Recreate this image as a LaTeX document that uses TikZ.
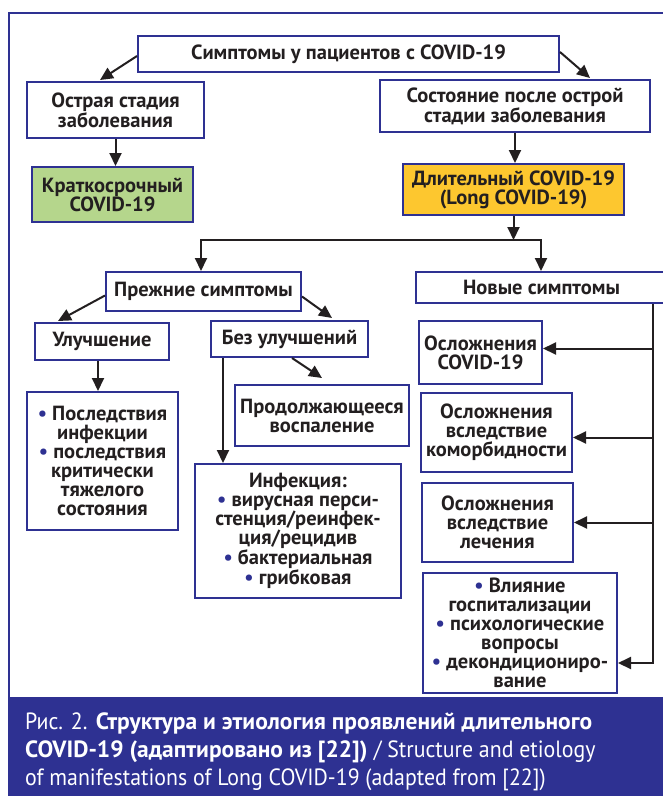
\documentclass[tikz,border=0pt]{standalone}
\usepackage{fontspec}
\setmainfont{PT Sans}
\newfontfamily\capreg{PT Sans}[FakeStretch=0.93]
\usetikzlibrary{arrows.meta}
\definecolor{fblue}{HTML}{2E3192}
\definecolor{ftext}{HTML}{231F20}
\definecolor{fgreen}{HTML}{B5D68C}
\definecolor{forange}{HTML}{FDC72F}
\newcommand{\bul}{{\color{fblue}\textbullet}\ }
\begin{document}
\begin{tikzpicture}[x=1pt,y=-1pt,
  box/.style={draw=fblue, line width=2pt, fill=white, text=ftext,
    font=\bfseries\fontsize{20.5}{19}\selectfont, align=center, inner sep=0pt},
  conn/.style={line width=2pt, draw=ftext, line join=miter,
    -{Triangle[length=13pt,width=12pt]}},
  plain/.style={line width=2pt, draw=ftext}]
\useasboundingbox (0,0) rectangle (663,796);
\clip (0,0) rectangle (663,796);
\fill[white] (0,0) rectangle (663,796);
% frame and caption band
\draw[fblue, line width=2pt] (9,698) -- (9,13) -- (690,13);
\fill[fblue] (8,697) rectangle (680,800);
\node[anchor=north west, text=white, align=left, inner sep=0pt,
  font=\fontsize{23.5}{28}\selectfont] (cap) at (25,713)
  {{\capreg Рис. 2.} \textbf{Структура и этиология проявлений длительного}\\
   \textbf{COVID-19 (адаптировано из [22])} {\capreg / Structure and etiology}\\
   {\capreg of manifestations of Long COVID-19 (adapted from [22])}};
% boxes
\node[box, minimum width=421pt, minimum height=36pt] (top) at (348.5,54) {Симптомы у пациентов с COVID-19};
\node[box, minimum width=177pt, minimum height=56pt] (acute) at (115.5,110) {Острая стадия\\заболевания};
\node[box, minimum width=270pt, minimum height=52pt] (post) at (515,106) {Состояние после острой\\стадии заболевания};
\node[box, fill=fgreen, minimum width=161pt, minimum height=55pt] (short) at (112.5,194.5) {Краткосрочный\\COVID-19};
\node[box, fill=forange, minimum width=221pt, minimum height=51pt] (long) at (513.5,189.5) {Длительный COVID-19\\(Long COVID-19)};
\node[box, minimum width=195pt, minimum height=39pt] (prev) at (203.5,291.5) {Прежние симптомы};
\node[box, minimum width=251pt, minimum height=31pt] (new) at (541.5,287.5) {Новые симптомы};
\node[box, minimum width=134pt, minimum height=37pt] (improve) at (102,341.5) {Улучшение};
\node[box, minimum width=157pt, minimum height=36pt] (noimp) at (289.5,339) {Без улучшений};
\node[box, minimum width=174pt, minimum height=61pt] (cont) at (322,415.5) {Продолжающееся\\воспаление};
\node[box, minimum width=151pt, minimum height=138pt] (conseq) at (102.5,461) {\bul Последствия\\инфекции\\\bul последствия\\критически\\тяжелого\\состояния};
\node[box, minimum width=206pt, minimum height=134pt] (infect) at (298,531) {Инфекция:\\\bul вирусная перси-\\стенция/реинфек-\\ция/рецидив\\\bul бактериальная\\\bul грибковая};
\node[box, minimum width=123pt, minimum height=63pt] (c1) at (480.5,352.5) {Осложнения\\COVID-19};
\node[box, minimum width=151pt, minimum height=79pt] (c2) at (496.5,432.5) {Осложнения\\вследствие\\коморбидности};
\node[box, minimum width=151pt, minimum height=79pt] (c3) at (497.5,522.5) {Осложнения\\вследствие\\лечения};
\node[box, minimum width=194pt, minimum height=120pt] (c4) at (520,633) {\bul Влияние\\госпитализации\\\bul психологические\\вопросы\\\bul декондициониро-\\вание};
% connectors
\draw[conn] ([yshift=-2pt]top.west) -- ([xshift=-15.5pt,yshift=1pt]acute.north);
\draw[conn] ([yshift=2pt]top.east) -- ([xshift=75pt,yshift=1pt]post.north);
\draw[conn] (acute.south) -- (acute.south |- short.north);
\draw[conn] (post.south) -- (post.south |- long.north);
\coordinate (jl) at (201,240);
\coordinate (jr) at (541,240);
\draw[conn] (long.south) -- (long.south |- jl);
\draw[line width=2pt, draw=ftext, line join=miter,
  {Triangle[length=13pt,width=12pt]}-{Triangle[length=13pt,width=12pt]}]
  (jl |- prev.north) -- (jl) -- (jr) -- (jr |- new.north);
\draw[conn] ([yshift=-4pt]prev.west) -- ([xshift=-44pt,yshift=1pt]improve.north);
\draw[conn] ([yshift=-5pt]prev.east) -- ([xshift=42.5pt,yshift=2pt]noimp.north);
\draw[conn] ([xshift=-4pt]improve.south) -- ([xshift=-4pt]improve.south |- conseq.north);
\draw[conn] ([xshift=2.5pt]noimp.south) -- ([yshift=6pt]cont.north);
\draw[conn] ([xshift=-66.5pt]noimp.south) -- ([xshift=-66.5pt]noimp.south |- infect.north);
\coordinate (vt) at ([xshift=111.5pt]new.south);
\coordinate (vb) at (653,663);
\draw[conn] (vt) -- (vb) -- (vb -| c4.east);
\draw[conn] ([yshift=4pt]vt |- c1.east) -- ([yshift=4pt]c1.east);
\draw[conn] ([yshift=-5pt]vt |- c2.east) -- ([yshift=-5pt]c2.east);
\draw[conn] (vt |- c3.east) -- (c3.east);
\end{tikzpicture}
\end{document}
